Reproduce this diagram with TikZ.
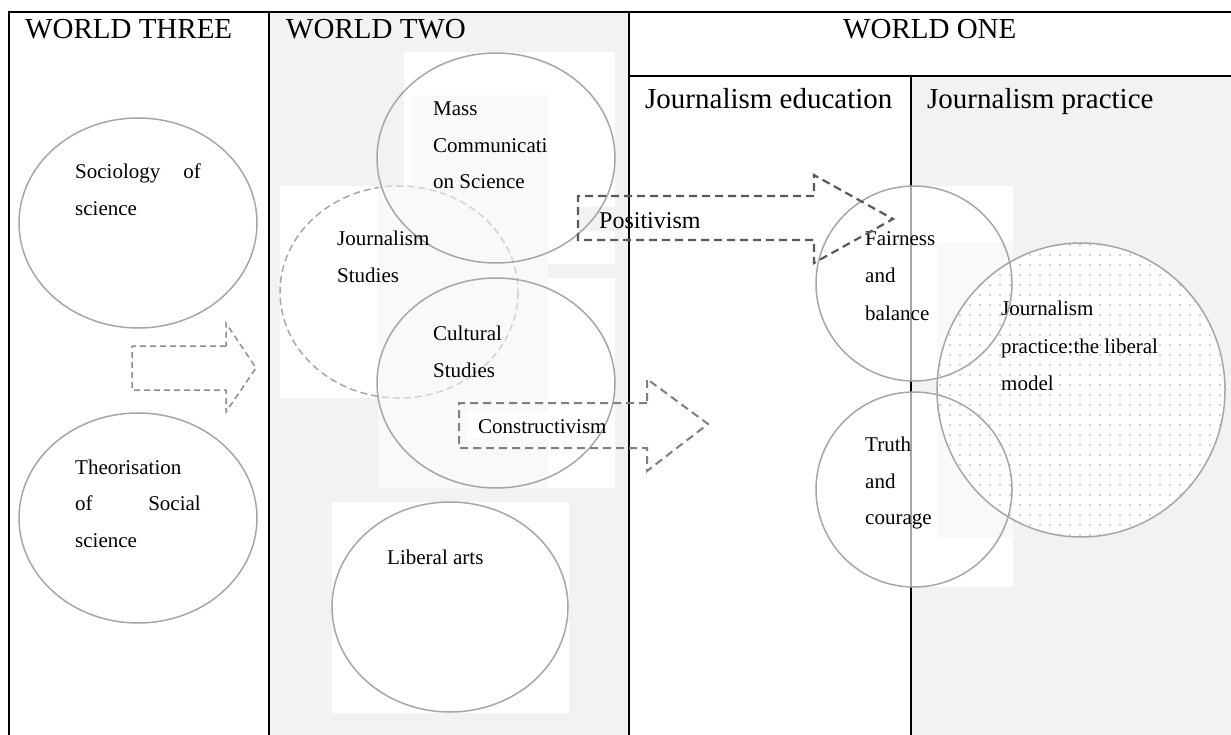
\documentclass[tikz,border=0pt]{standalone}
\usepackage{fontspec}
\setmainfont{Liberation Serif}
\usetikzlibrary{shapes.geometric,patterns.meta}
\definecolor{colgray}{HTML}{F2F2F2}
\definecolor{lightbox}{HTML}{F9F9F9}
\definecolor{ringgray}{HTML}{A6A6A6}
\definecolor{fadering}{HTML}{D2D2D2}
\definecolor{darkdash}{HTML}{595959}
\definecolor{middash}{HTML}{7F7F7F}
\definecolor{lightdash}{HTML}{8C8C8C}
\definecolor{dotgray}{HTML}{A0A0A0}
\tikzset{
  ring/.style={draw=ringgray, line width=1.5pt, ellipse, inner sep=0pt},
  bodytxt/.style={anchor=base west, inner sep=0pt, font=\fontsize{21}{25}\selectfont},
  bodytxtr/.style={anchor=base east, inner sep=0pt, font=\fontsize{21}{25}\selectfont},
  headtxt/.style={anchor=base west, inner sep=0pt, font=\fontsize{29}{34}\selectfont},
  tablerule/.style={line width=2pt, black},
  bigarrow/.style={draw=darkdash, line width=2.2pt, dash pattern=on 8pt off 5pt},
  midarrow/.style={draw=middash, line width=2pt, dash pattern=on 8pt off 5pt},
  smallarrow/.style={draw=lightdash, line width=1.5pt, dash pattern=on 6pt off 4pt},
  jsring/.style={line width=1.5pt, dash pattern=on 7pt off 4pt}
}
\begin{document}
\begin{tikzpicture}[x=1pt,y=-1pt]
\useasboundingbox (0,0) rectangle (1231,735);
% column fills
\fill[colgray] (269,12) rectangle (629,735);
\fill[colgray] (911,76) rectangle (1231,735);
% white text-box backgrounds
\fill[white] (404,52) rectangle (615,264);
\fill[white] (280,186) rectangle (518,398);
\fill[white] (548,278) rectangle (615,488);
\fill[white] (332,502) rectangle (569,713);
\fill[white] (911,186) rectangle (1013,381);
\fill[white] (911,392) rectangle (1013,587);
\fill[lightbox] (413,95) rectangle (548,264);
\fill[lightbox] (378,186) rectangle (548,488);
\fill[lightbox] (937,242) rectangle (1013,538);
\fill[colgray] (578,207) rectangle (615,231);
\fill[white] (467,412) rectangle (615,438);
% table rules
\draw[tablerule] (9,12) -- (1231,12);
\draw[tablerule] (9,11) -- (9,735);
\draw[tablerule] (269,12) -- (269,735);
\draw[tablerule] (629,12) -- (629,735);
\draw[tablerule] (629,76) -- (1231,76);
\draw[tablerule] (911,76) -- (911,735);
\draw[ringgray, line width=2pt] (911,187) -- (911,381);
\draw[ringgray, line width=2pt] (911,393) -- (911,587);
% headers
\node[headtxt] (w3) at (25,39) {WORLD THREE};
\node[headtxt] (w2) at (286,39) {WORLD TWO};
\node[headtxt] (w1) at (843,39) {WORLD ONE};
\node[headtxt] (jed) at (645,109) {Journalism education};
\node[headtxt] (jpr) at (927,109) {Journalism practice};
% Journalism Studies dashed ring
\begin{scope}
  \clip (0,0) rectangle (378,735);
  \draw[jsring, draw=ringgray] (399,292) ellipse [x radius=119, y radius=106];
\end{scope}
\begin{scope}
  \clip (378,0) rectangle (1231,735);
  \draw[jsring, draw=fadering] (399,292) ellipse [x radius=119, y radius=106];
\end{scope}
% liberal model dotted circle
\node[draw=ringgray, line width=1.5pt, ellipse, inner sep=0pt, minimum width=288pt, minimum height=294pt,
      preaction={fill=white}, pattern={Dots[distance=10pt, radius=0.9pt]}, pattern color=dotgray] (jp) at (1081,390) {};
% rings
\node[ring, minimum width=238pt, minimum height=210pt] (soc) at (138,223) {};
\node[ring, minimum width=238pt, minimum height=210pt] (theo) at (138,518) {};
\node[ring, minimum width=238pt, minimum height=210pt] (mass) at (496,158) {};
\node[ring, minimum width=238pt, minimum height=210pt] (cult) at (496,383) {};
\node[ring, minimum width=236pt, minimum height=210pt] (lib) at (450,607) {};
\node[ring, minimum width=196pt, minimum height=195pt] (fair) at (914,283.5) {};
\node[ring, minimum width=196pt, minimum height=195pt] (truth) at (914,489.5) {};
% texts
\node[bodytxt] (t1a) at (75,179) {Sociology};
\node[bodytxtr] (t1b) at (201,179) {of};
\node[bodytxt] (t1c) at (75,216) {science};
\node[bodytxt] (t2a) at (75,474) {Theorisation};
\node[bodytxt] (t2b) at (75,510) {of};
\node[bodytxtr] (t2c) at (201,510) {Social};
\node[bodytxt] (t2d) at (75,547) {science};
\node[bodytxt] (t3a) at (433,116) {Mass};
\node[bodytxt] (t3b) at (433,153) {Communicati};
\node[bodytxt] (t3c) at (433,189) {on Science};
\node[bodytxt] (t4a) at (337,246) {Journalism};
\node[bodytxt] (t4b) at (337,283) {Studies};
\node[bodytxt] (t5a) at (433,340) {Cultural};
\node[bodytxt] (t5b) at (433,377) {Studies};
\node[bodytxt] (t6) at (387,564) {Liberal arts};
\node[bodytxt] (t7) at (478,433) {Constructivism};
\node[anchor=base west, inner sep=0pt, font=\fontsize{24}{28}\selectfont] (t8) at (599,229) {Positivism};
\node[bodytxt] (t9a) at (865,246) {Fairness};
\node[bodytxt] (t9b) at (865,283) {and};
\node[bodytxt] (t9c) at (865,320) {balance};
\node[bodytxt] (t10a) at (865,451) {Truth};
\node[bodytxt] (t10b) at (865,488) {and};
\node[bodytxt] (t10c) at (865,524) {courage};
\node[bodytxt] (t11a) at (1001,316) {Journalism};
\node[bodytxt] (t11b) at (1001,353) {practice:the liberal};
\node[bodytxt] (t11c) at (1001,390) {model};
% dashed block arrows
\draw[smallarrow] (226,346) -- (132,346) -- (132,390) -- (226,390) -- (226,412) -- (256,368) -- (226,323) -- cycle;
\draw[bigarrow] (814,196) -- (578,196) -- (578,240) -- (814,240) -- (814,263) -- (893,219) -- (814,175) -- cycle;
\draw[midarrow] (647,403) -- (459,403) -- (459,448) -- (647,448) -- (647,471) -- (708,424) -- (647,379) -- cycle;
\end{tikzpicture}
\end{document}
